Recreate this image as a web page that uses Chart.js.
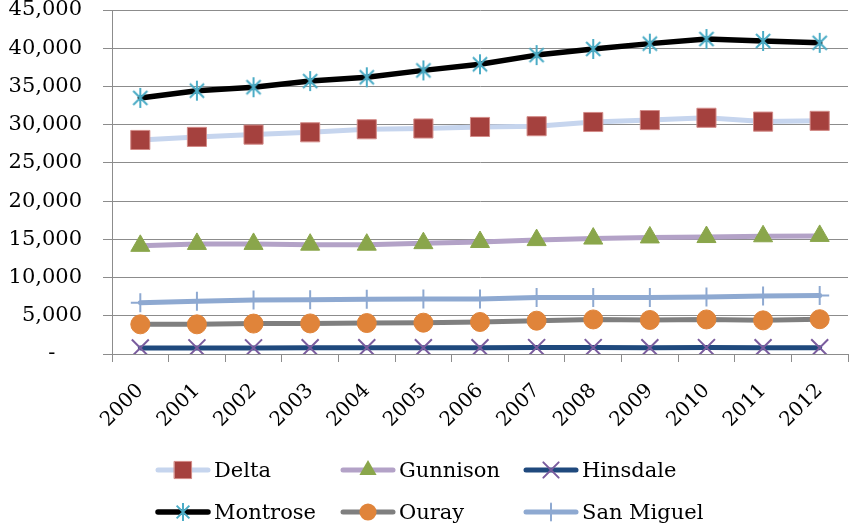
<!DOCTYPE html>
<html>
<head>
<meta charset="utf-8">
<script src="https://cdn.jsdelivr.net/npm/chart.js@4.4.0/dist/chart.umd.min.js"></script>
<style>
  body { margin: 0; background: #fff; }
  #wrap { position: relative; width: 850px; height: 527px; }
  #legend .item { position: absolute; display: flex; align-items: center; font: 21px "DejaVu Serif", serif; color: #000; white-space: nowrap; }
  #legend canvas { margin-right: 3px; }
</style>
</head>
<body>
<div id="wrap">
  <canvas id="popChart" width="850" height="527"></canvas>
  <div id="legend"></div>
</div>
<script>
// Population by county, 2000-2012
const years = ['2000', '2001', '2002', '2003', '2004', '2005', '2006', '2007', '2008', '2009', '2010', '2011', '2012'];
const delta     = [28000, 28400, 28700, 29000, 29400, 29500, 29700, 29800, 30350, 30600, 30900, 30400, 30500];
const gunnison  = [14150, 14400, 14400, 14300, 14300, 14500, 14650, 14900, 15100, 15250, 15300, 15400, 15450];
const hinsdale  = [790, 800, 800, 810, 820, 820, 830, 840, 840, 830, 840, 820, 810];
const montrose  = [33500, 34450, 34900, 35700, 36200, 37100, 37900, 39100, 39900, 40600, 41200, 40950, 40700];
const ouray     = [3880, 3880, 3980, 4000, 4050, 4100, 4190, 4360, 4520, 4450, 4520, 4400, 4550];
const sanMiguel = [6700, 6900, 7050, 7100, 7150, 7200, 7200, 7400, 7400, 7400, 7450, 7600, 7650];
const yTicks = [0, 5000, 10000, 15000, 20000, 25000, 30000, 35000, 40000, 45000];

const FONT = '"DejaVu Serif", serif';

function fmt(v) {
  if (v === 0) return '-    ';
  return String(v).replace(/\B(?=(\d{3})+(?!\d))/g, ',');
}

// asterisk marker (vertical + X), like the Excel star
function starMarker(r, color) {
  const c = document.createElement('canvas');
  const s = Math.ceil(r * 2 + 4);
  c.width = s; c.height = s;
  const g = c.getContext('2d');
  g.strokeStyle = color;
  g.lineWidth = 2;
  const m = s / 2;
  g.beginPath();
  g.moveTo(m, m - r); g.lineTo(m, m + r);
  const d = r * Math.SQRT1_2;
  g.moveTo(m - d, m - d); g.lineTo(m + d, m + d);
  g.moveTo(m - d, m + d); g.lineTo(m + d, m - d);
  g.stroke();
  return c;
}

const montroseStar = starMarker(10, '#4BACC6');

const series = [
  { label: 'Delta', data: delta, line: '#C6D5EE', style: 'rect', radius: 13.5, fill: '#A5413E', edge: '#D38B88', bw: 1 },
  { label: 'Gunnison', data: gunnison, line: '#B3A2C7', style: 'triangle', radius: 11, fill: '#8AA64B', edge: '#8AA64B', bw: 1 },
  { label: 'Hinsdale', data: hinsdale, line: '#1F497D', style: 'crossRot', radius: 12, fill: '#7A5C9E', edge: '#7A5C9E', bw: 2 },
  { label: 'Montrose', data: montrose, line: '#000000', style: montroseStar, radius: 10, fill: '#4BACC6', edge: '#4BACC6', bw: 2 },
  { label: 'Ouray', data: ouray, line: '#7F7F7F', style: 'circle', radius: 9.5, fill: '#E0843A', edge: '#E0843A', bw: 1 },
  { label: 'San Miguel', data: sanMiguel, line: '#8EA9D1', style: 'cross', radius: 9.5, fill: '#8EA9D1', edge: '#8EA9D1', bw: 2 }
];

const datasets = series.map(s => ({
  label: s.label,
  data: s.data,
  borderColor: s.line,
  borderWidth: s.label === 'Montrose' ? 5.5 : 5,
  borderCapStyle: 'round',
  borderJoinStyle: 'round',
  tension: 0,
  pointStyle: s.style,
  pointRadius: s.radius,
  pointHoverRadius: s.radius,
  pointBackgroundColor: s.fill,
  pointBorderColor: s.edge,
  pointBorderWidth: s.bw
}));

// drop the automatic label padding so the plot area sits where the original does
function noPad(sc) {
  sc.paddingTop = 0; sc.paddingBottom = 0; sc.paddingLeft = 0; sc.paddingRight = 0;
}

const ctx = document.getElementById('popChart').getContext('2d');
const popChart = new Chart(ctx, {
  type: 'line',
  data: { labels: years, datasets: datasets },
  options: {
    responsive: false,
    animation: false,
    events: [],
    layout: { autoPadding: false, padding: { top: 10, right: 2, left: 0, bottom: 0 } },
    plugins: { legend: { display: false }, tooltip: { enabled: false } },
    scales: {
      x: {
        offset: true,
        grid: { drawOnChartArea: false, drawTicks: true, tickLength: 8, color: '#8C8C8C', offset: true },
        border: { color: '#8C8C8C', width: 1 },
        ticks: { color: '#000', font: { family: FONT, size: 20 }, minRotation: 45, maxRotation: 45, padding: 17 },
        afterFit: sc => { sc.height = 527 - 354; noPad(sc); }
      },
      y: {
        min: 0,
        max: 45000,
        afterBuildTicks: sc => { sc.ticks = yTicks.map(v => ({ value: v })); },
        grid: { color: '#8C8C8C', lineWidth: 1, tickLength: 9 },
        border: { color: '#8C8C8C', width: 1 },
        ticks: { color: '#000', font: { family: FONT, size: 21 }, padding: 21, callback: v => fmt(v) },
        afterFit: sc => { sc.width = 112; noPad(sc); }
      }
    }
  }
});

// legend: line with marker, laid out in 3 columns like the original
function legendIcon(s) {
  const c = document.createElement('canvas');
  c.width = 56; c.height = 26;
  const g = c.getContext('2d');
  g.strokeStyle = s.line;
  g.lineWidth = s.label === 'Montrose' ? 5.5 : 5;
  g.lineCap = 'round';
  g.beginPath(); g.moveTo(3, 13); g.lineTo(53, 13); g.stroke();
  const r = s.radius * 0.9;
  const x = 28, y = 13;
  g.fillStyle = s.fill; g.strokeStyle = s.edge; g.lineWidth = s.bw;
  g.beginPath();
  if (s.style === 'rect') {
    const h = r * Math.SQRT1_2;
    g.rect(x - h, y - h, 2 * h, 2 * h); g.fill(); g.stroke();
  } else if (s.style === 'triangle') {
    g.moveTo(x, y - r); g.lineTo(x + r * 0.866, y + r * 0.5); g.lineTo(x - r * 0.866, y + r * 0.5); g.closePath(); g.fill();
  } else if (s.style === 'circle') {
    g.arc(x, y, r, 0, Math.PI * 2); g.fill();
  } else if (s.style === 'crossRot') {
    const d = r * Math.SQRT1_2;
    g.moveTo(x - d, y - d); g.lineTo(x + d, y + d); g.moveTo(x - d, y + d); g.lineTo(x + d, y - d); g.stroke();
  } else if (s.style === 'cross') {
    g.moveTo(x, y - r); g.lineTo(x, y + r); g.stroke();
  } else {
    g.drawImage(starMarker(r, s.fill), x - (r + 2), y - (r + 2));
  }
  return c;
}

const legendCols = [155, 340, 523];
const legendRows = [470, 512];
const legendEl = document.getElementById('legend');
series.forEach((s, i) => {
  const item = document.createElement('div');
  item.className = 'item';
  item.style.left = legendCols[i % 3] + 'px';
  item.style.top = (legendRows[Math.floor(i / 3)] - 13) + 'px';
  item.style.height = '26px';
  item.appendChild(legendIcon(s));
  const t = document.createElement('span');
  t.textContent = s.label;
  item.appendChild(t);
  legendEl.appendChild(item);
});
</script>
</body>
</html>
